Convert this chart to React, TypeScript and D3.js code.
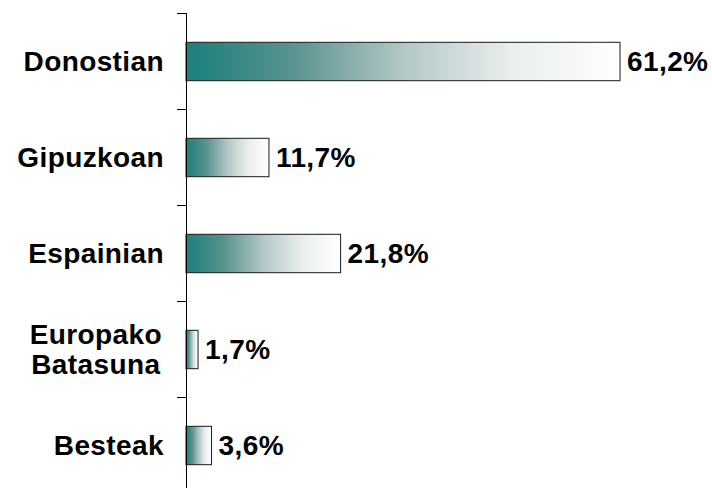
import React, { useEffect, useRef } from "react";
import * as d3 from "d3";

const categories: string[][] = [["Donostian"], ["Gipuzkoan"], ["Espainian"], ["Europako", "Batasuna"], ["Besteak"]];
const values: number[] = [61.2, 11.7, 21.8, 1.7, 3.6];
const valueLabels: string[] = ["61,2%", "11,7%", "21,8%", "1,7%", "3,6%"];

const gradientStops: [string, string][] = [
  ["0%", "#1a807b"],
  ["25%", "#5a938f"],
  ["50%", "#b2c7c6"],
  ["75%", "#e9eeee"],
  ["100%", "#ffffff"],
];

const W = 712;
const H = 488;
const FONT = "'Liberation Sans', Arial, sans-serif";
const FS = 28;
const LS = 0.4;

export default function App() {
  const ref = useRef<SVGSVGElement | null>(null);

  useEffect(() => {
    const svg = d3.select(ref.current);
    svg.selectAll("*").remove();

    const keys = categories.map((c) => c.join(" "));
    const y = d3.scaleBand<string>().domain(keys).range([13, 493]).padding(0);
    const x = d3.scaleLinear().domain([0, 70]).range([186, 186 + 70 * 7.092]);

    const defs = svg.append("defs");
    const grad = defs
      .append("linearGradient")
      .attr("id", "barGrad")
      .attr("x1", "0%")
      .attr("x2", "100%")
      .attr("y1", "0%")
      .attr("y2", "0%");
    gradientStops.forEach(([o, c]) => grad.append("stop").attr("offset", o).attr("stop-color", c));

    const bw = y.bandwidth();

    // bars
    svg
      .append("g")
      .selectAll("rect")
      .data(values)
      .join("rect")
      .attr("x", x(0))
      .attr("y", (_, i) => (y(keys[i]) as number) + bw * 0.3 + 0.5)
      .attr("width", (d) => x(d) - x(0))
      .attr("height", bw * 0.4)
      .attr("fill", "url(#barGrad)")
      .attr("stroke", "#1a1a1a")
      .attr("stroke-width", 1);

    // axis
    const axis = d3.axisLeft(y).tickSize(9).tickSizeOuter(0).tickFormat(() => "");
    const g = svg.append("g").attr("transform", `translate(${x(0)},0)`).call(axis as any);
    g.selectAll(".tick").remove();
    g.select(".domain").attr("stroke", "#000").attr("stroke-width", 1).attr("d", `M0.5,13V493`);
    const bounds = keys.map((k) => y(k) as number);
    g.selectAll("line.b")
      .data(bounds)
      .join("line")
      .attr("class", "b")
      .attr("x1", -9)
      .attr("x2", 0)
      .attr("y1", (d) => Math.round(d) + 0.5)
      .attr("y2", (d) => Math.round(d) + 0.5)
      .attr("stroke", "#000");

    // category labels
    const labelG = svg
      .append("g")
      .attr("font-family", FONT)
      .attr("font-weight", "bold")
      .attr("font-size", FS)
      .attr("letter-spacing", LS);
    categories.forEach((lines, i) => {
      const cy = (y(keys[i]) as number) + bw / 2;
      const t = labelG.append("text").attr("fill", "#000");
      if (lines.length === 1) {
        t.attr("x", 164).attr("y", cy).attr("dy", "0.35em").attr("text-anchor", "end").text(lines[0]);
      } else {
        const n = lines.length;
        const spans = lines.map((l, j) =>
          t
            .append("tspan")
            .attr("y", cy + (j - (n - 1) / 2) * 30)
            .attr("dy", "0.35em")
            .attr("text-anchor", "middle")
            .text(l)
        );
        const maxW = Math.max(...spans.map((s) => (s.node() as SVGTSpanElement).getComputedTextLength()));
        spans.forEach((s) => s.attr("x", 162 - maxW / 2));
      }
    });

    // value labels
    svg
      .append("g")
      .attr("font-family", FONT)
      .attr("font-weight", "bold")
      .attr("font-size", FS)
      .attr("letter-spacing", LS)
      .selectAll("text")
      .data(values)
      .join("text")
      .attr("x", (d) => x(d) + 7)
      .attr("y", (_, i) => (y(keys[i]) as number) + bw / 2)
      .attr("dy", "0.35em")
      .text((_, i) => valueLabels[i]);
  }, []);

  return (
    <svg
      ref={ref}
      width={W}
      height={H}
      style={{ position: "absolute", left: 0, top: 0, background: "#fff" }}
    />
  );
}
